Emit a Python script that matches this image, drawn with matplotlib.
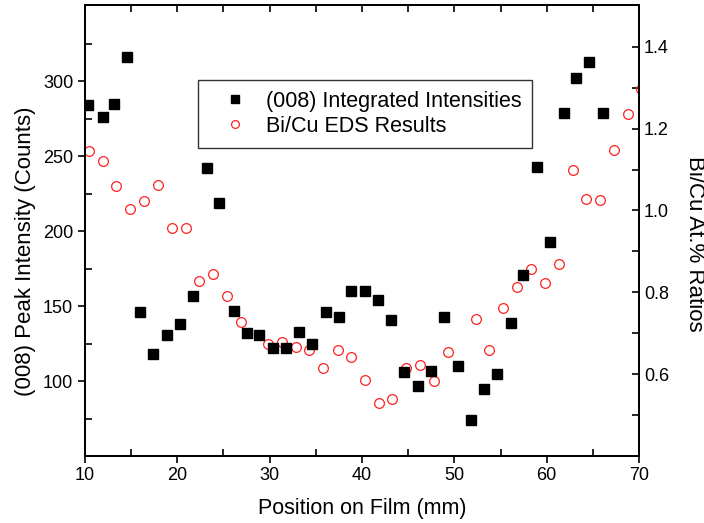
import matplotlib
matplotlib.use("Agg")
import matplotlib.pyplot as plt
from matplotlib.ticker import MultipleLocator, FixedLocator

plt.rcParams['font.family'] = ['Liberation Sans', 'DejaVu Sans']

# (008) integrated intensities (left axis)
pos_int = [10.36, 11.9, 13.1, 14.5, 16.0, 17.4, 18.85, 20.3, 21.7, 23.2,
           24.55, 26.1, 27.5, 28.9, 30.4, 31.8, 33.2, 34.6, 36.1, 37.5,
           38.85, 40.36, 41.77, 43.1, 44.6, 46.07, 47.5, 48.9, 50.4, 51.8,
           53.2, 54.66, 56.1, 57.47, 58.9, 60.4, 61.85, 63.2, 64.6, 66.1]
intensity = [284, 276, 285, 316, 146, 118, 131, 138, 157, 242,
             219, 147, 132, 131, 122, 122, 133, 125, 146, 143,
             160, 160, 154, 141, 106, 97, 107, 143, 110, 74,
             95, 105, 139, 171, 243, 193, 279, 302, 313, 279]

# Bi/Cu EDS ratios (right axis)
pos_eds = [10.4, 11.95, 13.4, 14.9, 16.4, 17.9, 19.4, 20.9, 22.4, 23.9,
           25.4, 26.86, 29.86, 31.3, 32.8, 34.3, 35.8, 37.4, 38.85,
           40.36, 41.84, 43.3, 44.8, 46.3, 47.8, 49.3, 52.3, 53.8,
           55.3, 56.8, 58.3, 59.8, 61.3, 62.8, 64.3, 65.8, 67.3, 68.8, 70.25]
ratio = [1.146, 1.121, 1.061, 1.003, 1.024, 1.062, 0.957, 0.957, 0.827, 0.844,
         0.791, 0.727, 0.673, 0.678, 0.667, 0.660, 0.614, 0.658, 0.643,
         0.587, 0.530, 0.539, 0.615, 0.622, 0.584, 0.654, 0.735, 0.659,
         0.761, 0.813, 0.856, 0.824, 0.870, 1.100, 1.027, 1.025, 1.147, 1.235, 1.296]

left_ticks = [100, 150, 200, 250, 300]
right_ticks = [0.6, 0.8, 1.0, 1.2, 1.4]

fig = plt.figure(figsize=(7.04, 5.23), dpi=100)
ax = fig.add_axes([0.1207, 0.128, 0.787, 0.8624])
ax2 = ax.twinx()

ax2.plot(pos_eds, ratio, 'o', mfc='none', mec='#ff2020', mew=0.9, ms=7,
         label='Bi/Cu EDS Results', zorder=2)
ax.plot(pos_int, intensity, 's', color='black', ms=6.5,
        label='(008) Integrated Intensities', zorder=3)
ax.set_zorder(ax2.get_zorder() + 1)
ax.patch.set_visible(False)

ax.set_xlim(10, 70)
ax.set_ylim(50, 350.7)
ax2.set_ylim(0.4, 1.502)

ax.xaxis.set_major_locator(MultipleLocator(10))
ax.xaxis.set_minor_locator(MultipleLocator(5))
ax.yaxis.set_major_locator(FixedLocator(left_ticks))
ax.yaxis.set_minor_locator(FixedLocator([75, 125, 175, 225, 275, 325]))
ax2.yaxis.set_major_locator(FixedLocator(right_ticks))
ax2.yaxis.set_minor_locator(FixedLocator([0.5, 0.7, 0.9, 1.1, 1.3]))

for a in (ax, ax2):
    for s in a.spines.values():
        s.set_linewidth(1.3)
ax.tick_params(axis='both', which='major', direction='out', width=1.2,
               length=5, labelsize=13, top=False)
ax.tick_params(axis='both', which='minor', direction='in', width=1.2,
               length=5, top=False)
ax.tick_params(axis='x', which='major', pad=3)
ax2.tick_params(axis='y', which='both', direction='in', width=1.2,
                length=5, labelsize=13)

# top axis: inward ticks every 5 mm, no labels
top = ax.secondary_xaxis('top')
top.xaxis.set_major_locator(MultipleLocator(5))
top.tick_params(direction='in', length=5, width=1.2, labeltop=False)
top.spines['top'].set_linewidth(1.3)

ax.set_xlabel('Position on Film (mm)', fontsize=15.5, labelpad=10)
ax.set_ylabel('(008) Peak Intensity (Counts)', fontsize=16, labelpad=5)
ax2.set_ylabel('Bi/Cu At.% Ratios', fontsize=16, rotation=270, labelpad=26)
ax.yaxis.label.set_y(0.455)
ax2.yaxis.label.set_y(0.47)

h1, l1 = ax.get_legend_handles_labels()
h2, l2 = ax2.get_legend_handles_labels()
leg = ax.legend(h1 + h2, l1 + l2, loc='upper left',
                bbox_to_anchor=(0.204, 0.834), fontsize=15.5,
                frameon=True, fancybox=False, edgecolor='black',
                borderpad=0.5, handlelength=2.4, handletextpad=0.25,
                labelspacing=0.2, borderaxespad=0, markerscale=0.8)
leg.get_frame().set_linewidth(1.0)

fig.savefig('out.png', dpi=100)
